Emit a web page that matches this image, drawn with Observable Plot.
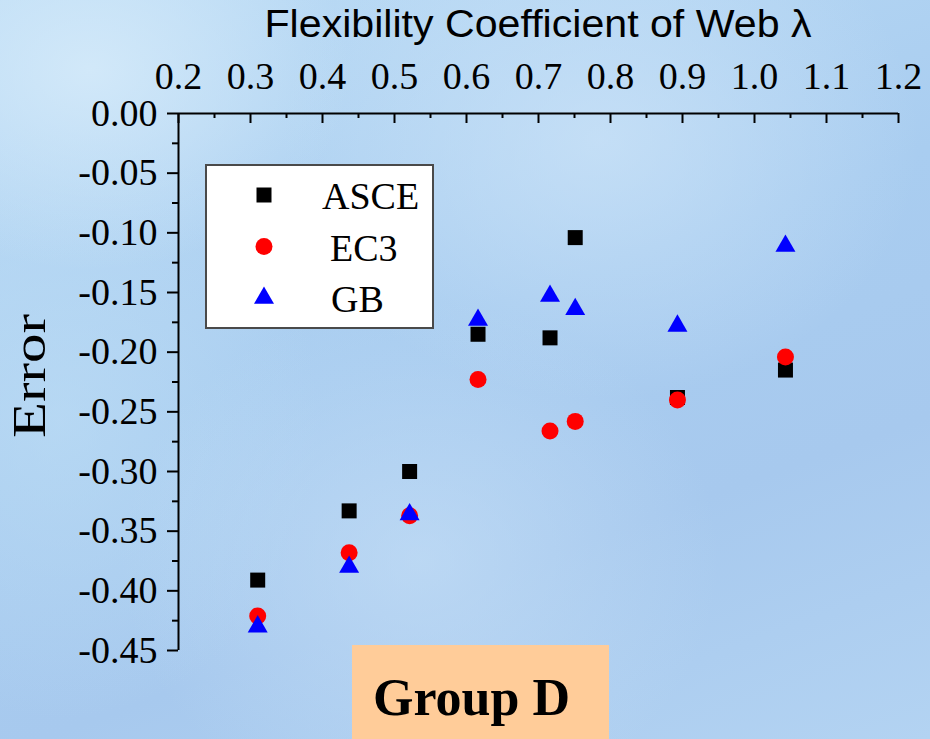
<!DOCTYPE html>
<html>
<head>
<meta charset="utf-8">
<script src="https://cdn.jsdelivr.net/npm/d3@7"></script>
<script src="https://cdn.jsdelivr.net/npm/@observablehq/plot@0.6"></script>
<style>
  html, body { margin: 0; padding: 0; }
  #chart {
    position: relative;
    width: 930px;
    height: 739px;
    overflow: hidden;
    background:
      radial-gradient(ellipse 260px 200px at 90px 70px, rgba(214,235,250,0.85), rgba(214,235,250,0) 100%),
      radial-gradient(ellipse 320px 260px at 600px 140px, rgba(205,228,248,0.7), rgba(205,228,248,0) 100%),
      radial-gradient(ellipse 300px 260px at 420px 560px, rgba(200,225,247,0.6), rgba(200,225,247,0) 100%),
      radial-gradient(ellipse 260px 300px at 60px 420px, rgba(190,222,245,0.6), rgba(190,222,245,0) 100%),
      linear-gradient(160deg, #bcdcf5 0%, #a9cdf0 45%, #a7c9ee 70%, #b3d3f2 100%);
  }
  #chart svg { position: absolute; left: 0; top: 0; }
</style>
</head>
<body>
<div id="chart"></div>
<script>
// Flexibility coefficient of web λ for each specimen in group D
const lambda = [0.310, 0.437, 0.521, 0.616, 0.716, 0.751, 0.893, 1.043];

// Error of each design code
const asce = [-0.391, -0.333, -0.300, -0.185, -0.188, -0.104, -0.238, -0.215];
const ec3  = [-0.421, -0.368, -0.337, -0.223, -0.266, -0.258, -0.240, -0.204];
const gb   = [-0.430, -0.380, -0.336, -0.173, -0.153, -0.164, -0.178, -0.111];

const seriesNames = ["ASCE", "EC3", "GB"];
const seriesColors = ["#000000", "#ff0000", "#0000ff"];
const seriesSymbols = ["square", "circle", "triangle"];

// Axis ticks
const xMajor = [0.2, 0.3, 0.4, 0.5, 0.6, 0.7, 0.8, 0.9, 1.0, 1.1, 1.2];
const xMinor = [0.25, 0.35, 0.45, 0.55, 0.65, 0.75, 0.85, 0.95, 1.05, 1.15];
const yMajor = [0, -0.05, -0.10, -0.15, -0.20, -0.25, -0.30, -0.35, -0.40, -0.45];
const yMinor = [-0.025, -0.075, -0.125, -0.175, -0.225, -0.275, -0.325, -0.375, -0.425];

const xTitle = "Flexibility Coefficient of Web \u03BB";
const yTitle = "Error";
const groupLabel = "Group D";

const rows = (vals, name) => lambda.map((x, i) => ({x, y: vals[i], series: name}));
const dataAsce = rows(asce, "ASCE");
const dataEc3 = rows(ec3, "EC3");
const dataGb = rows(gb, "GB");

// marker radii chosen so the symbols have equal visual weight
const rSquare = Math.sqrt(225 / Math.PI);
const rCircle = 8.5;
const rTriangle = Math.sqrt(173 / Math.PI);

const serif = "'Liberation Serif', 'Times New Roman', serif";

const plot = Plot.plot({
  width: 930,
  height: 739,
  marginLeft: 178,
  marginRight: 32,
  marginTop: 113,
  marginBottom: 89,
  style: {background: "transparent", fontFamily: serif, fontSize: "38px", color: "#000", overflow: "visible"},
  x: {domain: [0.2, 1.2]},
  y: {domain: [-0.45, 0]},
  marks: [
    // top axis: labels, then inward-pointing ticks
    Plot.axisX({anchor: "top", ticks: xMajor, tickSize: 0, tickPadding: 25,
      tickFormat: d => d.toFixed(1), label: null, fill: "#000"}),
    Plot.ruleX(xMajor, {x: d => d, y1: 0, y2: 0, insetBottom: -10, stroke: "#000", strokeWidth: 2}),
    Plot.ruleX(xMinor, {x: d => d, y1: 0, y2: 0, insetBottom: -5, stroke: "#000", strokeWidth: 2}),
    // left axis: outward ticks
    Plot.axisY({anchor: "left", ticks: yMajor, tickSize: 11, tickPadding: 10,
      tickFormat: d => (Math.abs(d) < 1e-9 ? 0 : d).toFixed(2), label: null,
      stroke: "#000", strokeWidth: 2, fill: "#000"}),
    Plot.axisY({anchor: "left", ticks: yMinor, tickSize: 6, text: null, label: null,
      stroke: "#000", strokeWidth: 2}),
    Plot.ruleY([0], {stroke: "#000", strokeWidth: 2}),
    Plot.ruleX([0.2], {stroke: "#000", strokeWidth: 2}),
    // data
    Plot.dot(dataAsce, {x: "x", y: "y", symbol: () => seriesSymbols[0], fill: seriesColors[0], r: rSquare}),
    Plot.dot(dataEc3, {x: "x", y: "y", symbol: () => seriesSymbols[1], fill: seriesColors[1], r: rCircle}),
    Plot.dot(dataGb, {x: "x", y: "y", symbol: () => seriesSymbols[2], fill: seriesColors[2], r: rTriangle})
  ]
});

document.getElementById("chart").appendChild(plot);
const svg = d3.select(plot);

// x axis title above the tick labels
svg.append("text")
  .attr("x", 538).attr("y", 37)
  .attr("text-anchor", "middle")
  .attr("font-family", "'Liberation Sans', Arial, sans-serif")
  .attr("font-size", 38)
  .attr("textLength", 547)
  .attr("lengthAdjust", "spacingAndGlyphs")
  .attr("fill", "#000")
  .text(xTitle);

// y axis title
svg.append("text")
  .attr("transform", "translate(45,376) rotate(-90)")
  .attr("text-anchor", "middle")
  .attr("font-family", serif)
  .attr("font-size", 47)
  .attr("textLength", 124)
  .attr("lengthAdjust", "spacingAndGlyphs")
  .attr("fill", "#000")
  .text(yTitle);

// legend
const lg = svg.append("g").attr("transform", "translate(206,165)");
lg.append("rect").attr("width", 227).attr("height", 163)
  .attr("fill", "#fff").attr("stroke", "#4a4a4a").attr("stroke-width", 2);
const symbolTypes = [d3.symbolSquare, d3.symbolCircle, d3.symbolTriangle];
const symbolSizes = [Math.PI * rSquare * rSquare, Math.PI * rCircle * rCircle, Math.PI * rTriangle * rTriangle];
const textX = [116, 124, 125];
seriesNames.forEach((name, i) => {
  const cy = 30 + i * 51.5;
  lg.append("path")
    .attr("transform", `translate(58,${cy})`)
    .attr("d", d3.symbol(symbolTypes[i], symbolSizes[i])())
    .attr("fill", seriesColors[i]);
  lg.append("text")
    .attr("x", textX[i]).attr("y", cy + 14)
    .attr("text-anchor", "start")
    .attr("font-family", serif)
    .attr("font-size", 38)
    .attr("fill", "#000")
    .text(name);
});

// group tag at the bottom
const tag = svg.append("g").attr("transform", "translate(352,645)");
tag.append("rect").attr("width", 257).attr("height", 100).attr("fill", "#ffcc99");
tag.append("text")
  .attr("x", 21).attr("y", 70)
  .attr("text-anchor", "start")
  .attr("font-family", serif)
  .attr("font-weight", "bold")
  .attr("font-size", 52)
  .attr("fill", "#000")
  .text(groupLabel);
</script>
</body>
</html>
